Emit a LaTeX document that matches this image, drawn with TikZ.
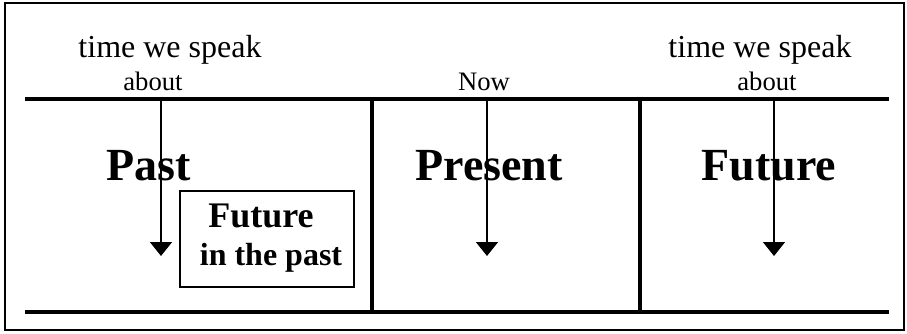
\documentclass[tikz,border=0pt]{standalone}
\usepackage{fontspec}
\setmainfont{Liberation Serif}
\usetikzlibrary{arrows.meta}
\begin{document}
\begin{tikzpicture}[
      x = 0.75pt, y = -0.75pt,
      label/.style = {
        anchor = base,
        inner sep = 0,
        font = \fontsize{24}{28}\selectfont,
      },
      small/.style = {
        anchor = base,
        inner sep = 0,
        font = \fontsize{20}{24}\selectfont,
      },
      tense/.style = {
        anchor = base,
        inner sep = 0,
        font = \fontsize{34.5}{40}\selectfont\bfseries,
      },
      rule/.style = {
        line width = 3pt,
      },
      pointer/.style = {
        line width = 1.1pt,
        -{Triangle[width = 16.5pt, length = 10.5pt]},
      },
    ]
    \useasboundingbox (0,0) rectangle (907,333);
    \draw[line width = 1.1pt] (5,3) rectangle (904,330);

    % time line
    \draw[rule] (25,99) -- (889,99);
    \draw[rule] (25,312) -- (889,312);
    \draw[rule] (372,99) -- (372,312);
    \draw[rule] (640,99) -- (640,312);

    \node[label] (tw1) at (170,57) {time we speak};
    \node[small] (ab1) at (153,90) {about};
    \node[small] (now) at (484,90) {Now};
    \node[label] (tw2) at (760,57) {time we speak};
    \node[small] (ab2) at (767,90) {about};

    \node[tense] (past) at (149,180) {Past};
    \node[tense] (pres) at (489,180) {Present};
    \node[tense] (fut)  at (769,180) {Future};

    \node[draw, line width = 1pt, minimum width = 130.5pt, minimum height = 72pt]
      (fip) at (267,239) {};
    \node[anchor = base, inner sep = 0, font = \fontsize{27}{30}\selectfont\bfseries]
      (fip1) at (261,227) {Future};
    \node[anchor = base, inner sep = 0, font = \fontsize{24}{28}\selectfont\bfseries]
      (fip2) at (271,265) {in the past};

    \coordinate (s1) at (161,101); \coordinate (e1) at (161,256);
    \coordinate (s2) at (487,101); \coordinate (e2) at (487,256);
    \coordinate (s3) at (774,101); \coordinate (e3) at (774,256);

    \begin{scope}[pointer]
      \draw (s1) -- (e1);
      \draw (s2) -- (e2);
      \draw (s3) -- (e3);
    \end{scope}

  \end{tikzpicture}
\end{document}
